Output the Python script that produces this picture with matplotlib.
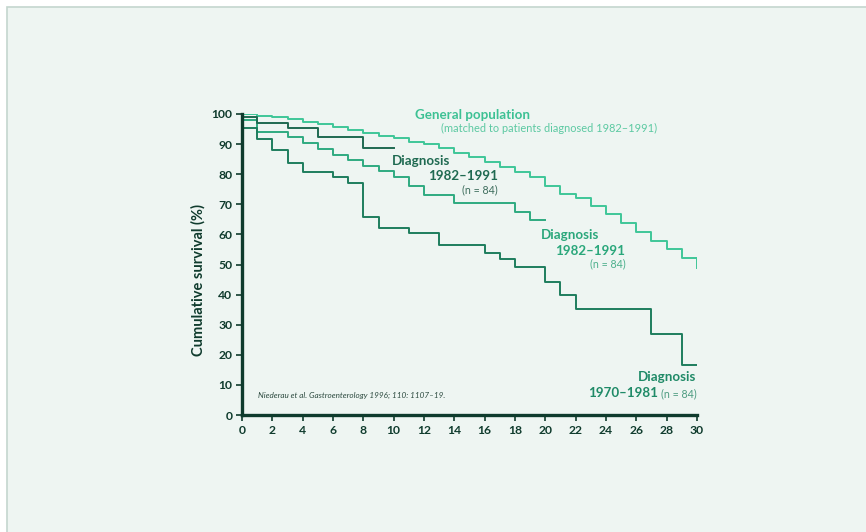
import matplotlib.pyplot as plt
from matplotlib.patches import Rectangle

# survival curves (years, cumulative survival %)
gen_years = list(range(0, 31))
gen_surv = [100, 99.5, 99.0, 98.3, 97.4, 96.6, 95.7, 94.7, 93.7, 92.7,
            91.9, 90.8, 90.0, 88.7, 87.2, 85.7, 84.0, 82.5, 80.8, 79.0,
            76.0, 73.3, 72.0, 69.4, 66.7, 63.9, 60.9, 57.9, 55.0, 52.0, 49.0]

dx_8291_dark_years = [0, 1, 3, 5, 8, 10]
dx_8291_dark_surv = [99.0, 97.0, 95.2, 92.5, 88.6, 88.6]

dx_8291_years = [0, 1, 3, 4, 5, 6, 7, 8, 9, 10, 11, 12, 14, 18, 19, 20]
dx_8291_surv = [98.0, 94.0, 92.5, 90.5, 88.5, 86.5, 84.8, 82.8, 80.9, 79.0,
                76.2, 73.1, 70.4, 67.4, 64.8, 64.8]

dx_7081_years = [0, 1, 2, 3, 4, 6, 7, 8, 9, 11, 13, 16, 17, 18, 20, 21, 22, 27, 29, 30]
dx_7081_surv = [95.5, 91.8, 88.2, 83.6, 80.7, 79.0, 77.2, 65.9, 62.2, 60.3,
                56.6, 53.7, 51.8, 49.1, 44.3, 39.9, 35.2, 26.9, 16.6, 16.6]

x_ticks = list(range(0, 31, 2))
y_ticks = list(range(0, 101, 10))

AX_COL = '#0f3b2d'
GEN_COL = '#3fc698'
MED_COL = '#2eaa80'
DARK_COL = '#1f6a51'
OLD_COL = '#1e7d5d'

plt.rcParams['font.family'] = ['Lato', 'DejaVu Sans']

fig = plt.figure(figsize=(8.66, 5.32), dpi=100)
fig.patch.set_facecolor('white')
fig.patches.append(Rectangle((7 / 866, -0.1), 1.2, (525 / 532) + 0.1,
                             transform=fig.transFigure, facecolor='#eef5f2',
                             edgecolor='#c4d6ce', linewidth=1.2, zorder=-10))

ax = fig.add_axes([242 / 866, 117 / 532, 455 / 866, 301 / 532])
ax.set_facecolor('none')

lw = 1.4
ax.step(gen_years, gen_surv, where='post', color=GEN_COL, linewidth=lw)
ax.step(dx_8291_years, dx_8291_surv, where='post', color=MED_COL, linewidth=lw)
ax.step(dx_7081_years, dx_7081_surv, where='post', color=OLD_COL, linewidth=lw)
ax.step(dx_8291_dark_years, dx_8291_dark_surv, where='post', color=DARK_COL, linewidth=lw)

ax.set_xlim(0, 30)
ax.set_ylim(0, 100)
ax.set_xticks(x_ticks)
ax.set_yticks(y_ticks)
for s in ['top', 'right']:
    ax.spines[s].set_visible(False)
for s in ['left', 'bottom']:
    ax.spines[s].set_color(AX_COL)
    ax.spines[s].set_linewidth(2.4)
ax.tick_params(axis='both', colors=AX_COL, length=4, width=1.2, labelsize=8.7, pad=3)
for lab in ax.get_xticklabels() + ax.get_yticklabels():
    lab.set_fontweight('bold')
    lab.set_color(AX_COL)

ax.set_ylabel('Cumulative survival (%)', fontsize=10.5, fontweight='bold', color=AX_COL)
ax.yaxis.set_label_coords(-0.08, 0.45)

# annotations
ax.text(11.41, 99.7, 'General population', fontsize=9.6, fontweight='bold',
        color='#3dc194', ha='left', va='center')
ax.text(27.36, 95.35, '(matched to patients diagnosed 1982\u20131991)', fontsize=7.9,
        color='#5cc9a2', ha='right', va='center')

ax.text(9.89, 84.5, 'Diagnosis', fontsize=9.6, fontweight='bold', color=DARK_COL,
        ha='left', va='center')
ax.text(16.88, 79.4, '1982\u20131991', fontsize=9.6, fontweight='bold', color=DARK_COL,
        ha='right', va='center')
ax.text(16.88, 74.75, '(n = 84)', fontsize=7.7, color='#3f6e5e', ha='right', va='center')

ax.text(19.71, 59.8, 'Diagnosis', fontsize=9.6, fontweight='bold', color='#2aa77b',
        ha='left', va='center')
ax.text(25.25, 54.6, '1982\u20131991', fontsize=9.6, fontweight='bold', color='#2aa77b',
        ha='right', va='center')
ax.text(25.3, 50.07, '(n = 84)', fontsize=7.7, color='#4db08d', ha='right', va='center')

ax.text(29.93, 12.7, 'Diagnosis', fontsize=9.6, fontweight='bold', color='#1f8a67',
        ha='right', va='center')
ax.text(22.81, 7.2, '1970\u20131981', fontsize=9.6, fontweight='bold', color='#1f8a67',
        ha='left', va='center')
ax.text(29.98, 7.0, '(n = 84)', fontsize=7.7, color='#4d9c81', ha='right', va='center')

ax.text(1.04, 6.4, 'Niederau et al. Gastroenterology 1996; 110: 1107\u201319.',
        fontsize=5.9, style='italic', color='#2c4a3f', ha='left', va='center')

fig.savefig('out.png', dpi=100)
